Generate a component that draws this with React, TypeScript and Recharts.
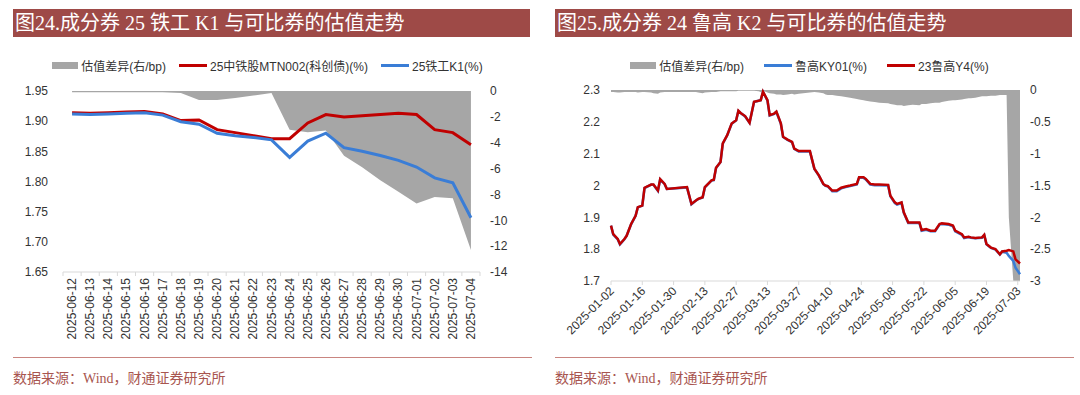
import React from 'react';
import { Area, ComposedChart, Line, XAxis, YAxis } from 'recharts';

// 图24：25铁工K1 与可比券
const dates24 = [
  '2025-06-12', '2025-06-13', '2025-06-14', '2025-06-15', '2025-06-16', '2025-06-17',
  '2025-06-18', '2025-06-19', '2025-06-20', '2025-06-21', '2025-06-22', '2025-06-23',
  '2025-06-24', '2025-06-25', '2025-06-26', '2025-06-27', '2025-06-28', '2025-06-29',
  '2025-06-30', '2025-07-01', '2025-07-02', '2025-07-03', '2025-07-04',
];
// 25中铁股MTN002(科创债)(%)
const zt24 = [
  1.914, 1.913, 1.914, 1.915, 1.916, 1.912, 1.901, 1.902, 1.886, 1.881, 1.876, 1.871,
  1.871, 1.897, 1.911, 1.907, 1.909, 1.911, 1.913, 1.911, 1.886, 1.881, 1.861,
];
// 25铁工K1(%)
const tg24 = [
  1.912, 1.911, 1.912, 1.913, 1.914, 1.91, 1.899, 1.895, 1.88, 1.876, 1.873, 1.869,
  1.84, 1.867, 1.88, 1.856, 1.85, 1.843, 1.835, 1.824, 1.806, 1.798, 1.74,
];
// 估值差异(右/bp)
const diff24 = [
  -0.1, -0.1, -0.1, -0.1, -0.1, -0.1, -0.15, -0.7, -0.7, -0.55, -0.35, -0.15,
  -3.0, -3.2, -3.05, -5.0, -5.9, -6.9, -7.8, -8.7, -8.2, -8.3, -12.3,
];
const leftTicks24 = [1.65, 1.7, 1.75, 1.8, 1.85, 1.9, 1.95];
const rightTicks24 = [-14, -12, -10, -8, -6, -4, -2, 0];

// 图25：24鲁高K2 与可比券
const dates25 = [
  '2025-01-02', '2025-01-03', '2025-01-05', '2025-01-06', '2025-01-08', '2025-01-09',
  '2025-01-11', '2025-01-13', '2025-01-14', '2025-01-16', '2025-01-17', '2025-01-20',
  '2025-01-21', '2025-01-23', '2025-01-24', '2025-01-26', '2025-01-27', '2025-02-05',
  '2025-02-07', '2025-02-09', '2025-02-10', '2025-02-12', '2025-02-13', '2025-02-16',
  '2025-02-17', '2025-02-18', '2025-02-20', '2025-02-21', '2025-02-23', '2025-02-25',
  '2025-02-27', '2025-02-28', '2025-03-01', '2025-03-03', '2025-03-05', '2025-03-07',
  '2025-03-09', '2025-03-10', '2025-03-11', '2025-03-13', '2025-03-14', '2025-03-16',
  '2025-03-17', '2025-03-19', '2025-03-20', '2025-03-22', '2025-03-24', '2025-03-25',
  '2025-03-27', '2025-03-29', '2025-04-01', '2025-04-03', '2025-04-05', '2025-04-07',
  '2025-04-08', '2025-04-09', '2025-04-11', '2025-04-13', '2025-04-15', '2025-04-17',
  '2025-04-19', '2025-04-22', '2025-04-23', '2025-04-25', '2025-04-26', '2025-04-28',
  '2025-04-30', '2025-05-02', '2025-05-06', '2025-05-07', '2025-05-09', '2025-05-10',
  '2025-05-12', '2025-05-13', '2025-05-15', '2025-05-17', '2025-05-20', '2025-05-21',
  '2025-05-23', '2025-05-25', '2025-05-27', '2025-05-29', '2025-05-30', '2025-06-02',
  '2025-06-04', '2025-06-05', '2025-06-08', '2025-06-09', '2025-06-11', '2025-06-12',
  '2025-06-14', '2025-06-17', '2025-06-18', '2025-06-19', '2025-06-21', '2025-06-23',
  '2025-06-25', '2025-06-26', '2025-06-28', '2025-06-29', '2025-07-01', '2025-07-02',
  '2025-07-04',
];
// 23鲁高Y4(%)
const y425 = [
  1.874, 1.847, 1.832, 1.816, 1.832, 1.842, 1.879, 1.905, 1.932, 1.937, 1.993, 2.003,
  2.003, 1.984, 2.02, 2.005, 1.989, 1.995, 1.942, 1.953, 1.958, 1.963, 1.995, 2.016,
  2.018, 2.056, 2.074, 2.132, 2.158, 2.195, 2.205, 2.235, 2.228, 2.218, 2.197, 2.263,
  2.266, 2.268, 2.295, 2.268, 2.221, 2.226, 2.232, 2.195, 2.153, 2.144, 2.137, 2.116,
  2.108, 2.108, 2.108, 2.053, 2.032, 2.005, 2.0, 1.998, 1.984, 1.984, 1.993, 1.997,
  2.0, 2.005, 2.026, 2.026, 2.021, 2.005, 2.003, 2.003, 2.002, 1.968, 1.947, 1.942,
  1.947, 1.916, 1.884, 1.884, 1.884, 1.86, 1.863, 1.858, 1.858, 1.879, 1.881, 1.879,
  1.874, 1.858, 1.847, 1.837, 1.839, 1.837, 1.835, 1.837, 1.845, 1.816, 1.805, 1.8,
  1.784, 1.793, 1.795, 1.797, 1.793, 1.768, 1.755,
];
// 鲁高KY01(%)
const ky25 = [
  1.874, 1.846, 1.831, 1.815, 1.831, 1.842, 1.878, 1.905, 1.931, 1.937, 1.992, 2.003,
  2.002, 1.983, 2.019, 2.004, 1.989, 1.994, 1.941, 1.953, 1.957, 1.962, 1.994, 2.016,
  2.017, 2.055, 2.074, 2.131, 2.158, 2.194, 2.205, 2.234, 2.228, 2.217, 2.197, 2.262,
  2.266, 2.268, 2.294, 2.267, 2.22, 2.225, 2.231, 2.194, 2.152, 2.143, 2.136, 2.115,
  2.107, 2.107, 2.107, 2.052, 2.031, 2.004, 1.999, 1.997, 1.982, 1.982, 1.991, 1.995,
  1.998, 2.003, 2.024, 2.024, 2.019, 2.003, 2.001, 2.001, 2.0, 1.966, 1.945, 1.94,
  1.945, 1.914, 1.882, 1.882, 1.882, 1.858, 1.861, 1.856, 1.856, 1.877, 1.879, 1.877,
  1.872, 1.856, 1.845, 1.835, 1.838, 1.836, 1.834, 1.836, 1.844, 1.815, 1.804, 1.799,
  1.783, 1.792, 1.789, 1.779, 1.763, 1.742, 1.721,
];
// 估值差异(右/bp)
const diff25 = [
  -0.03, -0.03, -0.04, -0.04, -0.03, -0.03, -0.03, -0.03, -0.04, -0.03, -0.03, -0.04,
  -0.05, -0.06, -0.04, -0.03, -0.03, -0.03, -0.03, -0.03, -0.04, -0.05, -0.04, -0.03,
  -0.03, -0.03, -0.02, -0.02, -0.02, -0.02, -0.02, -0.01, -0.01, -0.01, -0.01, -0.01,
  -0.02, -0.03, -0.01, -0.04, -0.05, -0.06, -0.07, -0.07, -0.08, -0.07, -0.06, -0.07,
  -0.06, -0.05, -0.04, -0.03, -0.04, -0.05, -0.07, -0.08, -0.08, -0.09, -0.1, -0.11,
  -0.12, -0.14, -0.15, -0.16, -0.17, -0.18, -0.19, -0.2, -0.21, -0.22, -0.23, -0.24,
  -0.24, -0.25, -0.24, -0.23, -0.24, -0.22, -0.22, -0.21, -0.2, -0.2, -0.19, -0.17,
  -0.16, -0.16, -0.15, -0.14, -0.13, -0.13, -0.12, -0.1, -0.1, -0.1, -0.09, -0.09,
  -0.08, -0.08, -0.08, -2.0, -3.0, -3.0, -3.0,
];
const tickDates25 = [
  '2025-01-02', '2025-01-16', '2025-01-30', '2025-02-13', '2025-02-27', '2025-03-13',
  '2025-03-27', '2025-04-10', '2025-04-24', '2025-05-08', '2025-05-22', '2025-06-05',
  '2025-06-19', '2025-07-03',
];
const endDate25 = '2025-07-04';
const leftTicks25 = [1.7, 1.8, 1.9, 2.0, 2.1, 2.2, 2.3];
const rightTicks25 = [-3, -2.5, -2, -1.5, -1, -0.5, 0];

const RED = '#C00000';
const BLUE = '#3A7DD6';
const GRAY = '#A6A6A6';
const AXIS = '#D9D9D9';
const TEXT = '#333333';
const SANS = '"Liberation Sans", "Noto Sans CJK SC", sans-serif';
const SERIF = '"Liberation Serif", "Noto Sans CJK SC", serif';

const dayOf = (s: string) =>
  (Date.UTC(+s.slice(0, 4), +s.slice(5, 7) - 1, +s.slice(8, 10)) - Date.UTC(2025, 0, 2)) / 86400000;

const data24 = dates24.map((d, i) => ({ i, date: d, zt: zt24[i], tg: tg24[i], diff: diff24[i] }));
const data25 = dates25.map((d, i) => ({ day: dayOf(d), date: d, y4: y425[i], ky: ky25[i], diff: diff25[i] }));

// left chart plot spans x 63..480, so one category band is:
const BAND24 = (480 - 63) / dates24.length;

function DateTick24(props: any) {
  const { x, y, payload } = props;
  const i = payload.value as number;
  const ty = y + 6;
  return (
    <g>
      <line x1={x - BAND24 / 2} x2={x - BAND24 / 2} y1={y} y2={y + 4} stroke={AXIS} />
      {i === dates24.length - 1 && (
        <line x1={x + BAND24 / 2} x2={x + BAND24 / 2} y1={y} y2={y + 4} stroke={AXIS} />
      )}
      <text
        x={x}
        y={ty}
        transform={`rotate(-90 ${x} ${ty})`}
        textAnchor="end"
        dominantBaseline="central"
        fontSize={12}
        fontFamily={SANS}
        fill={TEXT}
      >
        {dates24[i]}
      </text>
    </g>
  );
}

function DateTick25(props: any) {
  const { x, y, payload } = props;
  const label = new Date(Date.UTC(2025, 0, 2) + payload.value * 86400000).toISOString().slice(0, 10);
  const tx = x + 1;
  const ty = y + 8;
  return (
    <g>
      <line x1={x} x2={x} y1={y} y2={y + 4} stroke={AXIS} />
      <text
        x={tx}
        y={ty}
        transform={`rotate(-45 ${tx} ${ty})`}
        textAnchor="end"
        dominantBaseline="central"
        fontSize={12}
        fontFamily={SANS}
        fill={TEXT}
      >
        {label}
      </text>
    </g>
  );
}

type LegendItem = { label: string; color: string; kind: 'area' | 'line' };

function LegendRow({ items, gap }: { items: LegendItem[]; gap: number }) {
  return (
    <div
      style={{
        position: 'absolute',
        left: 0,
        top: 57,
        width: 535,
        display: 'flex',
        justifyContent: 'center',
        alignItems: 'center',
        gap,
        fontFamily: SANS,
        fontSize: 12,
        color: TEXT,
        whiteSpace: 'nowrap',
      }}
    >
      {items.map((it) => (
        <div key={it.label} style={{ display: 'flex', alignItems: 'center' }}>
          <span
            style={{
              display: 'inline-block',
              width: it.kind === 'area' ? 26 : 28,
              height: it.kind === 'area' ? 7 : 3,
              background: it.color,
              marginRight: 3,
            }}
          />
          <span>{it.label}</span>
        </div>
      ))}
    </div>
  );
}

function Panel({ left, title, children }: { left: number; title: string; children: React.ReactNode }) {
  return (
    <div style={{ position: 'absolute', left, top: 0, width: 540, height: 395 }}>
      <div
        style={{
          position: 'absolute',
          left: 13,
          top: 9,
          width: 517,
          height: 28,
          background: '#9E4A47',
          color: '#fff',
          fontFamily: SERIF,
          fontSize: 20,
          lineHeight: '28px',
          paddingLeft: 2,
          boxSizing: 'border-box',
          whiteSpace: 'nowrap',
        }}
      >
        {title}
      </div>
      {children}
      <div style={{ position: 'absolute', left: 13, top: 357, width: 519, height: 1, background: '#C98580' }} />
      <div
        style={{
          position: 'absolute',
          left: 13,
          top: 367,
          fontFamily: SERIF,
          fontSize: 14,
          color: '#A8554F',
          whiteSpace: 'nowrap',
        }}
      >
        数据来源：Wind，财通证券研究所
      </div>
    </div>
  );
}

const yTick = { fontSize: 12, fill: TEXT, fontFamily: SANS };

function Chart24() {
  return (
    <div style={{ position: 'absolute', left: 0, top: 0 }}>
      <ComposedChart width={540} height={395} data={data24} margin={{ top: 91, right: 15, bottom: 53, left: 0 }}>
        <XAxis
          dataKey="i"
          type="number"
          domain={[-0.5, dates24.length - 0.5]}
          ticks={data24.map((r) => r.i)}
          interval={0}
          height={70}
          stroke={AXIS}
          tickLine={false}
          tickSize={0}
          tickMargin={0}
          tick={(p: any) => <DateTick24 {...p} />}
        />
        <YAxis
          yAxisId="l"
          domain={[1.65, 1.95]}
          ticks={leftTicks24}
          width={63}
          axisLine={false}
          tickLine={false}
          tickSize={0}
          tickMargin={15}
          tick={yTick}
          tickFormatter={(v: number) => v.toFixed(2)}
        />
        <YAxis
          yAxisId="r"
          orientation="right"
          domain={[-14, 0]}
          ticks={rightTicks24}
          width={45}
          axisLine={false}
          tickLine={false}
          tickSize={0}
          tickMargin={10}
          tick={yTick}
        />
        <Area
          yAxisId="r"
          dataKey="diff"
          type="linear"
          fill={GRAY}
          fillOpacity={1}
          stroke="none"
          baseValue={0}
          isAnimationActive={false}
        />
        <Line yAxisId="l" dataKey="zt" type="linear" stroke={RED} strokeWidth={3} dot={false} isAnimationActive={false} />
        <Line yAxisId="l" dataKey="tg" type="linear" stroke={BLUE} strokeWidth={3} dot={false} isAnimationActive={false} />
      </ComposedChart>
    </div>
  );
}

function Chart25() {
  return (
    <div style={{ position: 'absolute', left: 0, top: 0 }}>
      <ComposedChart width={540} height={395} data={data25} margin={{ top: 90, right: 10, bottom: 44, left: 0 }}>
        <XAxis
          dataKey="day"
          type="number"
          domain={[0, dayOf(endDate25)]}
          ticks={tickDates25.map(dayOf)}
          interval={0}
          height={70}
          stroke={AXIS}
          tickLine={false}
          tickSize={0}
          tickMargin={0}
          tick={(p: any) => <DateTick25 {...p} />}
        />
        <YAxis
          yAxisId="l"
          domain={[1.7, 2.3]}
          ticks={leftTicks25}
          width={69}
          axisLine={false}
          tickLine={false}
          tickSize={0}
          tickMargin={11}
          tick={yTick}
          tickFormatter={(v: number) => String(Math.round(v * 10) / 10)}
        />
        <YAxis
          yAxisId="r"
          orientation="right"
          domain={[-3, 0]}
          ticks={rightTicks25}
          width={52}
          axisLine={false}
          tickLine={false}
          tickSize={0}
          tickMargin={10}
          tick={yTick}
          allowDataOverflow
        />
        <Area
          yAxisId="r"
          dataKey="diff"
          type="linear"
          fill={GRAY}
          fillOpacity={1}
          stroke="none"
          baseValue={0}
          isAnimationActive={false}
        />
        <Line yAxisId="l" dataKey="ky" type="linear" stroke={BLUE} strokeWidth={2.5} dot={false} isAnimationActive={false} />
        <Line yAxisId="l" dataKey="y4" type="linear" stroke={RED} strokeWidth={2.5} dot={false} isAnimationActive={false} />
      </ComposedChart>
    </div>
  );
}

export default function App() {
  return (
    <div style={{ position: 'absolute', left: 0, top: 0, width: 1080, height: 395, background: '#fff', overflow: 'hidden' }}>
      <Panel left={0} title="图24.成分券 25 铁工 K1 与可比券的估值走势">
        <Chart24 />
        <LegendRow
          gap={13}
          items={[
            { label: '估值差异(右/bp)', color: GRAY, kind: 'area' },
            { label: '25中铁股MTN002(科创债)(%)', color: RED, kind: 'line' },
            { label: '25铁工K1(%)', color: BLUE, kind: 'line' },
          ]}
        />
      </Panel>
      <Panel left={542} title="图25.成分券 24 鲁高 K2 与可比券的估值走势">
        <Chart25 />
        <LegendRow
          gap={20}
          items={[
            { label: '估值差异(右/bp)', color: GRAY, kind: 'area' },
            { label: '鲁高KY01(%)', color: BLUE, kind: 'line' },
            { label: '23鲁高Y4(%)', color: RED, kind: 'line' },
          ]}
        />
      </Panel>
    </div>
  );
}
